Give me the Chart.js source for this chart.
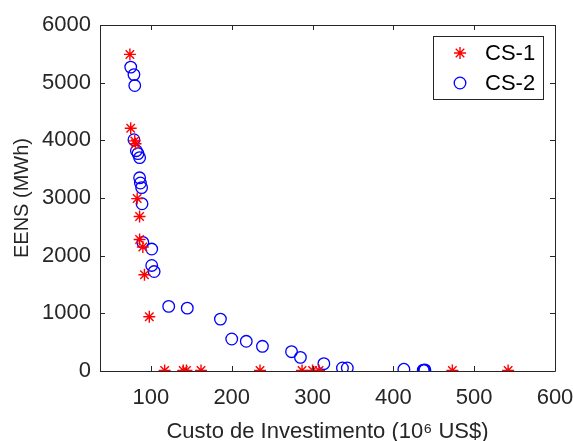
<!DOCTYPE html>
<html>
<head>
<meta charset="utf-8">
<script src="https://cdn.jsdelivr.net/npm/chart.js@4/dist/chart.umd.min.js"></script>
<style>
  html, body { margin: 0; padding: 0; background: #fff; }
  #wrap { width: 573px; height: 441px; }
</style>
</head>
<body>
<div id="wrap"><canvas id="grafica"></canvas></div>
<script>
// CS-1 (red asterisks)
const cs1X = [74, 75, 80, 81, 83, 86, 86, 90, 92, 98, 117, 140, 144, 162, 235, 287, 300, 308, 473, 542];
const cs1Y = [5490, 4210, 3990, 3940, 2990, 2680, 2280, 2150, 1670, 940, 10, 10, 10, 10, 10, 10, 10, 10, 10, 10];

// CS-2 (blue circles)
const cs2X = [75, 79, 80, 79, 82, 84, 86, 86, 87, 88.5, 89, 90, 101, 101, 104, 122, 145, 186, 200, 218, 238, 274, 285, 314, 337, 343, 413, 437, 438, 439];
const cs2Y = [5270, 5140, 4950, 4010, 3820, 3770, 3700, 3350, 3260, 3180, 2900, 2230, 2115, 1830, 1725, 1120, 1090, 900, 555, 515, 428, 335, 237, 127, 52, 52, 30, 15, 10, 20];

const xTicks = [100, 200, 300, 400, 500, 600];
const yTicks = [0, 1000, 2000, 3000, 4000, 5000, 6000];
const serieNames = ['CS-1', 'CS-2'];

const fuente = 'Liberation Sans, Arial, Helvetica, sans-serif';
const gris = '#262626';

const toPoints = (xs, ys) => xs.map((x, i) => ({ x: x, y: ys[i] }));

// box and inward ticks like the original figure
const marco = {
    id: 'marco',
    afterDraw(chart) {
        const ctx = chart.ctx;
        const a = chart.chartArea;
        const sx = chart.scales.x;
        const sy = chart.scales.y;
        ctx.save();
        ctx.strokeStyle = gris;
        ctx.lineWidth = 1;
        ctx.beginPath();
        ctx.rect(a.left + 0.5, a.top + 0.5, a.right - a.left, a.bottom - a.top);
        xTicks.forEach(v => {
            const px = Math.round(sx.getPixelForValue(v)) + 0.5;
            ctx.moveTo(px, a.bottom); ctx.lineTo(px, a.bottom - 5);
            ctx.moveTo(px, a.top); ctx.lineTo(px, a.top + 5);
        });
        yTicks.forEach(v => {
            const py = Math.round(sy.getPixelForValue(v)) + 0.5;
            ctx.moveTo(a.left, py); ctx.lineTo(a.left + 5, py);
            ctx.moveTo(a.right, py); ctx.lineTo(a.right - 5, py);
        });
        ctx.stroke();

        // legend box
        const lx = 433, ly = 36, lw = 110, lh = 63;
        ctx.fillStyle = '#fff';
        ctx.fillRect(lx, ly, lw, lh);
        ctx.strokeStyle = '#262626';
        ctx.strokeRect(lx + 0.5, ly + 0.5, lw, lh);
        chart.data.datasets.forEach((ds, i) => {
            const cy = ly + 17 + i * 30;
            ctx.strokeStyle = ds.borderColor;
            ctx.fillStyle = ds.backgroundColor;
            ctx.lineWidth = ds.borderWidth;
            Chart.helpers.drawPoint(ctx, {
                pointStyle: ds.pointStyle,
                radius: ds.pointRadius,
                rotation: 0,
                borderWidth: ds.borderWidth
            }, 460, cy);
            ctx.fillStyle = '#000';
            ctx.font = '22px ' + fuente;
            ctx.textAlign = 'left';
            ctx.textBaseline = 'middle';
            ctx.fillText(ds.label, 485, cy + 1);
        });
        ctx.restore();
    }
};

const grafica = new Chart(document.getElementById('grafica'), {
    type: 'scatter',
    data: {
        datasets: [{
            label: serieNames[0],
            data: toPoints(cs1X, cs1Y),
            pointStyle: 'star',
            pointRadius: 6,
            borderColor: '#ff0000',
            backgroundColor: '#ff0000',
            borderWidth: 1.4
        }, {
            label: serieNames[1],
            data: toPoints(cs2X, cs2Y),
            pointStyle: 'circle',
            pointRadius: 5.8,
            borderColor: '#0000ff',
            backgroundColor: 'rgba(0,0,0,0)',
            borderWidth: 1.3
        }]
    },
    options: {
        responsive: true,
        maintainAspectRatio: false,
        animation: false,
        layout: { padding: { top: 25, right: 18, left: 0, bottom: 0 } },
        plugins: {
            legend: { display: false },
            tooltip: { enabled: false }
        },
        scales: {
            x: {
                type: 'linear',
                min: 37,
                max: 600,
                afterBuildTicks: s => { s.ticks = xTicks.map(v => ({ value: v })); },
                afterFit: s => { s.height = 70; s.paddingLeft = 0; s.paddingRight = 0; },
                grid: { display: false, drawTicks: false },
                border: { display: false },
                ticks: { color: gris, font: { family: fuente, size: 22 }, padding: 14, maxRotation: 0, callback: v => String(v) },
                title: {
                    display: true,
                    text: 'Custo de Investimento (10\u2076 US$)',
                    color: gris,
                    font: { family: fuente, size: 22 },
                    padding: { top: 2, bottom: -4 }
                }
            },
            y: {
                type: 'linear',
                min: 0,
                max: 6000,
                afterBuildTicks: s => { s.ticks = yTicks.map(v => ({ value: v })); },
                afterFit: s => { s.width = 100; s.paddingTop = 0; s.paddingBottom = 0; },
                grid: { display: false, drawTicks: false },
                border: { display: false },
                ticks: { color: gris, font: { family: fuente, size: 22 }, padding: 9, callback: v => String(v) },
                title: {
                    display: true,
                    text: 'EENS (MWh)',
                    color: gris,
                    font: { family: fuente, size: 20 },
                    padding: { top: 10, bottom: 0 }
                }
            }
        }
    },
    plugins: [marco]
});
</script>
</body>
</html>
